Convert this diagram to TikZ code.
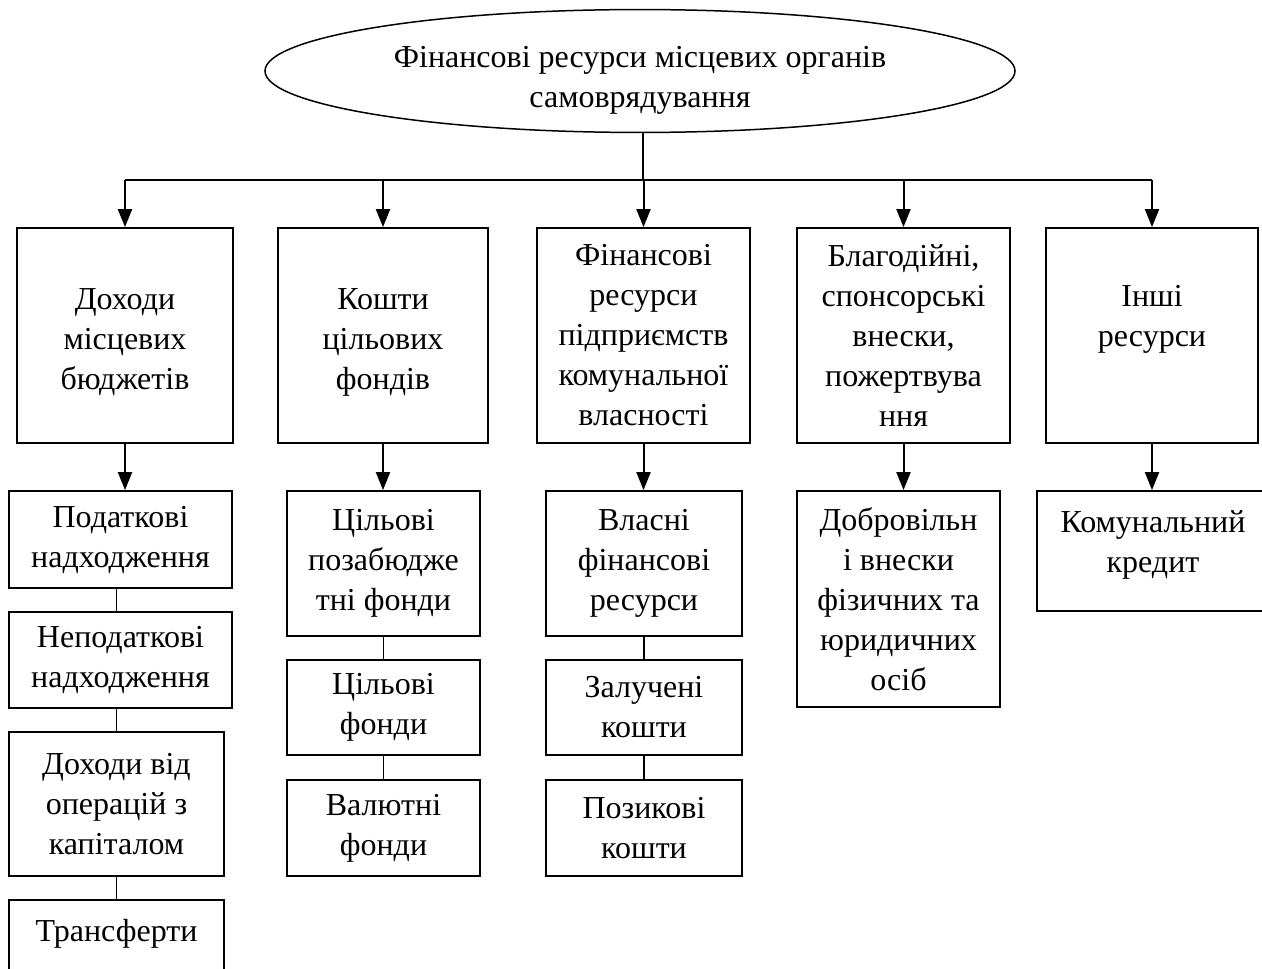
\documentclass[tikz,border=0pt]{standalone}
\usepackage{fontspec}
\setmainfont{Liberation Serif}
\usetikzlibrary{arrows.meta,shapes.geometric}
\begin{document}
\begin{tikzpicture}[x=1pt,y=-1pt,
  every node/.style={font=\fontsize{32}{40}\selectfont},
  box/.style={draw, line width=1.8pt, rectangle, align=center, inner sep=0pt},
  arr/.style={line width=2pt, -{Triangle[length=18pt,width=14pt]}},
  link/.style={line width=1.6pt}]
\useasboundingbox (0,0) rectangle (1262,969);
% root
\node[ellipse, draw, line width=1.5pt, minimum width=750pt, minimum height=118pt, align=center, inner sep=0pt] (root) at (640,71) {\mbox{}\\Фінансові ресурси місцевих органів\\самоврядування};
\coordinate (bus) at (643,180);
% top level boxes
\node[box, minimum width=216pt, minimum height=215pt] (b1) at (125,335.5) {\mbox{}\\[-6pt]Доходи\\місцевих\\бюджетів};
\node[box, minimum width=210pt, minimum height=215pt] (b2) at (383,335.5) {\mbox{}\\[-6pt]Кошти\\цільових\\фондів};
\node[box, minimum width=213pt, minimum height=215pt] (b3) at (643.5,335.5) {Фінансові\\ресурси\\підприємств\\комунальної\\власності};
\node[box, minimum width=213pt, minimum height=215pt] (b4) at (903.5,335.5) {Благодійні,\\спонсорські\\внески,\\пожертвува\\ння};
\node[box, minimum width=212pt, minimum height=215pt] (b5) at (1152,335.5) {Інші\\ресурси\\\mbox{}};
% column 1
\node[box, minimum width=223pt, minimum height=97pt] (c1) at (120.5,539.5) {Податкові\\надходження};
\node[box, minimum width=223pt, minimum height=96pt] (c2) at (120.5,660) {Неподаткові\\надходження};
\node[box, minimum width=215pt, minimum height=144pt] (c3) at (116.5,804) {Доходи від\\операцій з\\капіталом};
\node[box, minimum width=215pt, minimum height=100pt] (c4) at (116.5,950) {Трансферти\\\mbox{}};
% column 2
\node[box, minimum width=193pt, minimum height=145pt] (d1) at (383.5,563.5) {Цільові\\позабюдже\\тні фонди};
\node[box, minimum width=193pt, minimum height=95pt] (d2) at (383.5,707.5) {Цільові\\фонди};
\node[box, minimum width=193pt, minimum height=96pt] (d3) at (383.5,828) {Валютні\\фонди};
% column 3
\node[box, minimum width=196pt, minimum height=145pt] (e1) at (644,563.5) {Власні\\фінансові\\ресурси};
\node[box, minimum width=196pt, minimum height=95pt] (e2) at (644,707.5) {Залучені\\кошти};
\node[box, minimum width=196pt, minimum height=96pt] (e3) at (644,828) {Позикові\\кошти};
% column 4
\node[box, minimum width=203pt, minimum height=216pt] (f1) at (898.5,599) {Добровільн\\і внески\\фізичних та\\юридичних\\осіб};
% column 5
\node[box, minimum width=232pt, minimum height=120pt] (g1) at (1153,551) {Комунальний\\кредит\\[-22pt]\mbox{}};
% connectors
\draw[line width=2pt] (bus |- root.south) -- (bus);
\draw[line width=2pt] (b1.north |- bus) -- (b5.north |- bus);
\foreach \b in {b1,b2,b3,b4,b5}
  \draw[arr] (\b.north |- bus) -- (\b.north);
\draw[arr] (b1.south) -- (b1.south |- c1.north);
\draw[arr] (b2.south) -- (b2.south |- d1.north);
\draw[arr] (b3.south) -- (b3.south |- e1.north);
\draw[arr] (b4.south) -- (b4.south |- f1.north);
\draw[arr] (b5.south) -- (b5.south |- g1.north);
\draw[link] (c3.north |- c1.south) -- (c3.north |- c2.north);
\draw[link] (c3.north |- c2.south) -- (c3.north);
\draw[link] (c3.south) -- (c4.north);
\draw[link] (d1.south) -- (d2.north);
\draw[link] (d2.south) -- (d3.north);
\draw[link] (e1.south) -- (e2.north);
\draw[link] (e2.south) -- (e3.north);
\end{tikzpicture}
\end{document}
